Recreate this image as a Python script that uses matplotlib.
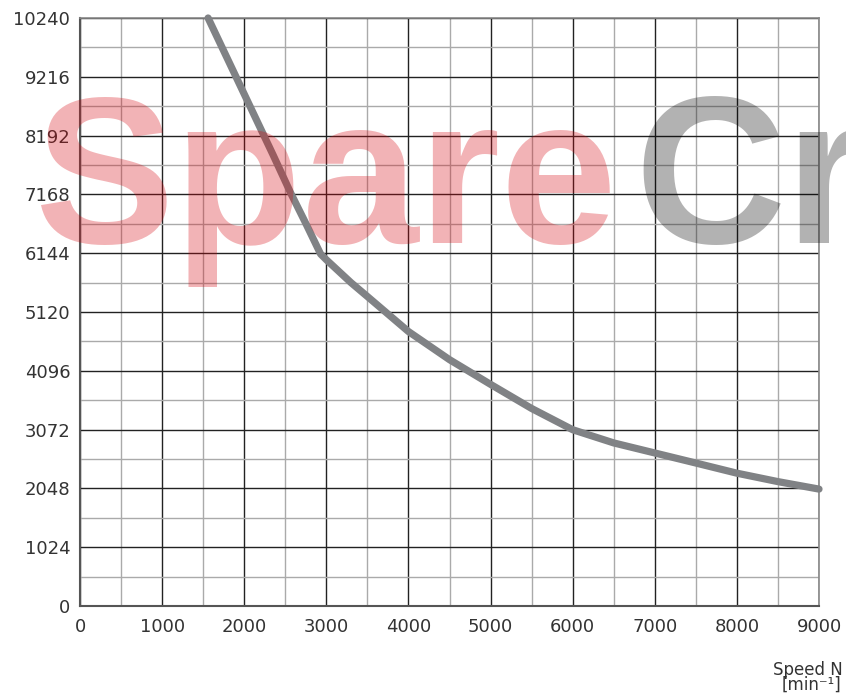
import matplotlib
matplotlib.use("Agg")
from matplotlib import pyplot as plt
import numpy as np

# Werte
speed = [1560, 2000, 2350, 2570, 2756, 2930, 3000, 3300, 3500, 4000, 4500,
         5000, 5500, 6000, 6500, 7000, 7500, 8000, 8500, 9000]
torque = [10240, 8915, 7860, 7180, 6645, 6130, 6030, 5632, 5390, 4780, 4290,
          3860, 3440, 3070, 2840, 2665, 2490, 2313, 2166, 2036]

x_ticks = list(range(0, 9001, 1000))
x_minor = list(range(500, 9000, 1000))
y_ticks = list(range(0, 10241, 1024))
y_minor = list(range(512, 10240, 1024))

plt.rcParams['font.family'] = ['DejaVu Sans']

fig = plt.figure(figsize=(8.46, 7.0), dpi=100)
ax = fig.add_axes([80 / 846, 94 / 700, 739 / 846, 588 / 700])

ax.set_xlim(0, 9000)
ax.set_ylim(0, 10240)
ax.set_xticks(x_ticks)
ax.set_xticks(x_minor, minor=True)
ax.set_yticks(y_ticks)
ax.set_yticks(y_minor, minor=True)

ax.grid(which='major', color='#222222', lw=1.0, zorder=1)
ax.grid(which='minor', color='#aaaaaa', lw=1.0, zorder=1)
ax.set_axisbelow(True)

ax.tick_params(which='both', length=0)
ax.tick_params(axis='x', labelsize=13, pad=9, labelcolor='#333333')
ax.tick_params(axis='y', labelsize=13, pad=7, labelcolor='#333333')

for s in ['left', 'bottom']:
    ax.spines[s].set_color('#555555')
    ax.spines[s].set_linewidth(1.5)
for s in ['top', 'right']:
    ax.spines[s].set_color('#888888')
    ax.spines[s].set_linewidth(1.2)

ax.plot(speed, torque, color='#808285', lw=5.2, solid_capstyle='round',
        solid_joinstyle='round', zorder=3, clip_on=False)

# Wasserzeichen
fig.text(34 / 846, 1 - 243 / 700, 'Spare', fontsize=151, family='Liberation Sans',
         weight='bold', color=(0.84, 0.02, 0.05), alpha=0.3, ha='left',
         va='baseline', zorder=10)
fig.text(634 / 846, 1 - 243 / 700, 'Cr', fontsize=151, family='Liberation Sans',
         weight='bold', color='black', alpha=0.3, ha='left', va='baseline',
         zorder=10)

fig.text(843 / 846, 1 - 675 / 700, 'Speed N', fontsize=12, color='#333333',
         ha='right', va='baseline')
fig.text(841 / 846, 1 - 690 / 700, '[min⁻¹]', fontsize=12, color='#333333',
         ha='right', va='baseline')

fig.savefig('out.png', dpi=100)
